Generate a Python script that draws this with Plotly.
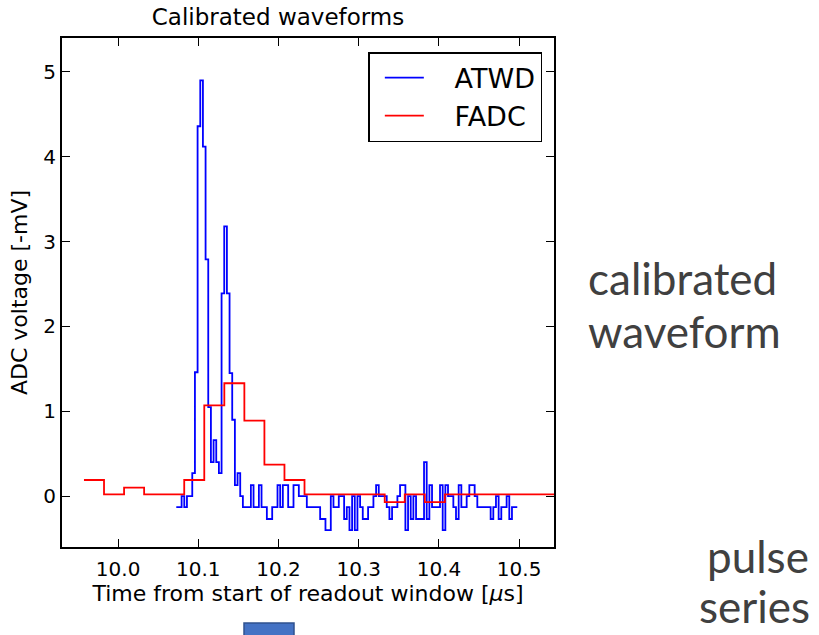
import plotly.graph_objects as go
import numpy as np

# ---------------- data ----------------
atwd_t0 = 10.0725      # start time of ATWD samples [us]
atwd_dt = 0.003322     # ATWD bin width [us]
atwd_mv = [
    -0.13, -0.13, 0.00, -0.13, 0.00, 0.00, 0.27, 1.46, 4.36, 4.90,
    4.12, 2.79, 1.05, 0.40, 0.66, 0.40, 0.27, 2.39, 3.18, 2.39,
    1.45, 0.90, 0.13, 0.27, 0.00, -0.13, -0.13, -0.13, 0.13, -0.13,
    -0.13, 0.13, -0.13, -0.13, -0.27, -0.27, -0.13, -0.13, 0.13, -0.13,
    0.13, 0.13, -0.13, -0.13, 0.13, 0.13, 0.00, 0.00, 0.00, -0.13,
    -0.13, -0.13, -0.13, -0.13, -0.27, -0.27, -0.40, -0.40, 0.00, -0.13,
    -0.13, 0.00, 0.00, -0.27, -0.13, -0.40, 0.00, -0.40, 0.00, -0.13,
    -0.27, -0.27, -0.13, -0.13, 0.00, 0.13, 0.00, 0.00, 0.00, -0.13,
    -0.27, -0.13, -0.13, 0.00, 0.13, 0.13, -0.40, 0.00, -0.27, 0.00,
    -0.27, -0.27, -0.27, 0.40, -0.27, 0.13, -0.13, -0.13, -0.13, 0.13,
    -0.40, 0.13, 0.00, 0.00, -0.13, -0.27, 0.13, -0.13, -0.13, 0.00,
    0.13, 0.13, 0.00, -0.13, -0.13, -0.13, -0.13, -0.13, -0.27, -0.13,
    0.00, -0.27, -0.13, -0.13, 0.00, -0.27, -0.13, -0.13,
]

fadc_t0 = 9.9574       # start time of FADC samples [us]
fadc_dt = 0.025        # FADC bin width [us]
fadc_mv = [
    0.19, 0.02, 0.10, 0.02, 0.02, 0.19, 1.07, 1.33, 0.89, 0.37,
    0.19, 0.02, 0.02, 0.02, 0.02, -0.07, 0.02, -0.07, 0.02, 0.02,
    0.02, 0.02, 0.02, 0.02,
]

x_tickvals = [10.0, 10.1, 10.2, 10.3, 10.4, 10.5]
x_ticktext = ["10.0", "10.1", "10.2", "10.3", "10.4", "10.5"]
y_tickvals = [0, 1, 2, 3, 4, 5]
y_ticktext = ["0", "1", "2", "3", "4", "5"]

x_range = [9.930, 10.5435]
y_range = [-0.6, 5.4]

# ---------------- geometry ----------------
W, H = 819, 635
L, R, T, B = 62, 554, 38, 547


def px(x):
    return (x - L) / (R - L)


def py(y):
    return (B - y) / (B - T)


def step_xy(t0, dt, vals):
    n = len(vals)
    t = t0 + dt * np.arange(n + 1)
    v = list(vals) + [vals[-1]]
    return t, v


ax, ay = step_xy(atwd_t0, atwd_dt, atwd_mv)
fx, fy = step_xy(fadc_t0, fadc_dt, fadc_mv)

FONT = "DejaVu Sans"
NB = "\u00a0"

fig = go.Figure()
fig.add_trace(go.Scatter(x=ax, y=ay, mode="lines", name=NB * 3 + "ATWD",
                         line=dict(color="#0000ff", width=1.8, shape="hv"),
                         legendgroup="a"))
fig.add_trace(go.Scatter(x=fx, y=fy, mode="lines", name=NB * 3 + "FADC",
                         line=dict(color="#ff0000", width=1.8, shape="hv"),
                         legendgroup="b"))

axis_common = dict(showline=True, linecolor="black", linewidth=2, mirror="ticks",
                   ticks="inside", ticklen=8, tickwidth=1.2, tickcolor="black",
                   showgrid=False, zeroline=False,
                   tickfont=dict(family=FONT, size=20, color="black"))

fig.update_xaxes(range=x_range, tickvals=x_tickvals, ticktext=x_ticktext,
                 ticklabelstandoff=3,
                 title=dict(text="Time from start of readout window [<i>μ</i>s]",
                            font=dict(family=FONT, size=22, color="black"), standoff=2),
                 **axis_common)
fig.update_yaxes(range=y_range, tickvals=y_tickvals, ticktext=y_ticktext,
                 title=dict(text="ADC voltage [-mV]",
                            font=dict(family=FONT, size=22, color="black"), standoff=10),
                 **axis_common)

shapes = [
    dict(type="rect", xref="paper", yref="paper",
         x0=px(244), x1=px(294), y0=py(660), y1=py(623),
         fillcolor="#4472c4", line=dict(color="#2f528f", width=1.5), layer="above"),
]

side_font = dict(family="Lato", size=44, color="#404040")
annotations = [
    dict(text="calibrated", xref="paper", yref="paper",
         x=px(586), y=py(278), xanchor="left", yanchor="middle", align="left",
         showarrow=False, font=side_font),
    dict(text="waveform", xref="paper", yref="paper",
         x=px(586), y=py(331), xanchor="left", yanchor="middle", align="left",
         showarrow=False, font=side_font),
    dict(text="pulse", xref="paper", yref="paper",
         x=px(811), y=py(556), xanchor="right", yanchor="middle", align="right",
         showarrow=False, font=side_font),
    dict(text="series", xref="paper", yref="paper",
         x=px(812), y=py(606), xanchor="right", yanchor="middle", align="right",
         showarrow=False, font=side_font),
]

fig.update_layout(
    width=W, height=H,
    margin=dict(l=L, r=W - R, t=T, b=H - B, pad=0),
    paper_bgcolor="white", plot_bgcolor="white",
    title=dict(text="Calibrated waveforms", x=px(278), xref="paper", xanchor="center",
               y=1 - 17 / H, yref="container", yanchor="middle",
               font=dict(family=FONT, size=23, color="black")),
    showlegend=True,
    legend=dict(x=px(542), xanchor="right", y=py(52), yanchor="top",
                bordercolor="black", borderwidth=1.5, bgcolor="white",
                font=dict(family=FONT, size=27, color="black"),
                title=dict(text=NB, side="left", font=dict(family=FONT, size=1)),
                itemwidth=39, tracegroupgap=0, traceorder="normal"),
    shapes=shapes,
    annotations=annotations,
)

fig.write_html("out.html")
